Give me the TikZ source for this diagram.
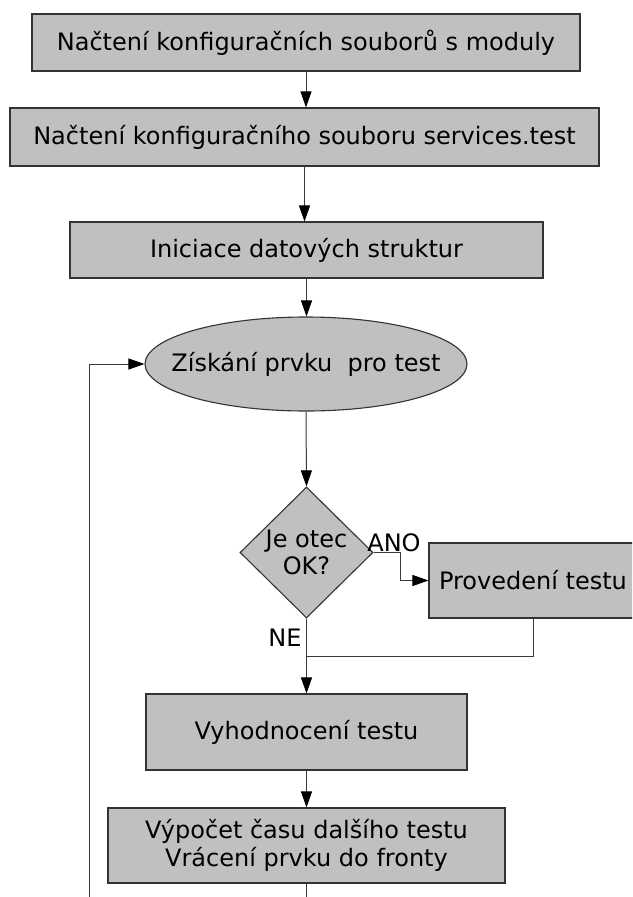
\documentclass[tikz,border=0pt]{standalone}
\usepackage{fontspec}
\setmainfont{DejaVu Sans}
\usetikzlibrary{shapes.geometric,arrows.meta}
\definecolor{boxfill}{HTML}{C0C0C0}
\definecolor{boxline}{HTML}{333333}
\definecolor{conn}{HTML}{3A3A3A}
\tikzset{
  every node/.style={font=\fontsize{24}{28}\selectfont},
  procbox/.style={rectangle, draw=boxline, fill=boxfill, line width=1.1pt, inner sep=0pt, align=center},
  ellbox/.style={ellipse, draw=boxline, fill=boxfill, line width=1.1pt, inner sep=0pt},
  decbox/.style={diamond, draw=boxline, fill=boxfill, line width=1.1pt, inner sep=0pt},
  conline/.style={draw=conn, line width=1pt},
  arr/.style={conline, -{Triangle[length=16pt,width=11pt,color=black]}},
  lbl/.style={inner sep=0pt, anchor=base}
}
\begin{document}
\begin{tikzpicture}[x=1pt,y=-1pt]
\useasboundingbox (0,0) rectangle (632,897);
\clip (0,0) rectangle (632,897);
\fill[white] (0,0) rectangle (632,897);
\node[procbox, minimum width=548pt, minimum height=57pt] (b1) at (306,42.5) {Načtení konfiguračních souborů s moduly};
\node[procbox, minimum width=589pt, minimum height=58pt] (b2) at (304.5,137) {Načtení konfiguračního souboru services.test};
\node[procbox, minimum width=473pt, minimum height=56pt] (b3) at (306.5,250) {Iniciace datových struktur};
\node[ellbox, minimum width=322pt, minimum height=94pt, label={center:Získání prvku\ \ pro test}] (e) at (306,364) {};
\node[decbox, minimum width=133pt, minimum height=131pt, label={[align=center, font=\fontsize{24}{27}\selectfont]center:Je otec\\OK?}] (d) at (306.5,552.5) {};
\node[procbox, minimum width=208pt, minimum height=75pt] (p) at (533,580.5) {Provedení testu};
\node[procbox, minimum width=321pt, minimum height=76pt] (vy) at (306.5,732) {Vyhodnocení testu};
\node[procbox, minimum width=397pt, minimum height=75pt] (vp) at (306.5,845.5) {Výpočet času dalšího testu\\Vrácení prvku do fronty};
\node[lbl] (ano) at (394,551) {ANO};
\node[lbl] (ne) at (285,646) {NE};
\coordinate (merge) at (306.5,656);
\coordinate (loopcorner) at (89,910);
\draw[arr] (b1.south) -- (b1.south |- b2.north);
\draw[arr] (b2.south) -- (b2.south |- b3.north);
\draw[arr] (b3.south) -- (b3.south |- e.north);
\draw[arr] (e.south) -- (d.north);
\draw[arr] (d.east) -- ++(27,0) |- (p.west);
\draw[arr] (d.south) -- (vy.north);
\draw[conline] (p.south) |- (merge);
\draw[arr] (vy.south) -- (vp.north);
\draw[arr] (vp.south) |- (loopcorner) |- (e.west);
\end{tikzpicture}
\end{document}
